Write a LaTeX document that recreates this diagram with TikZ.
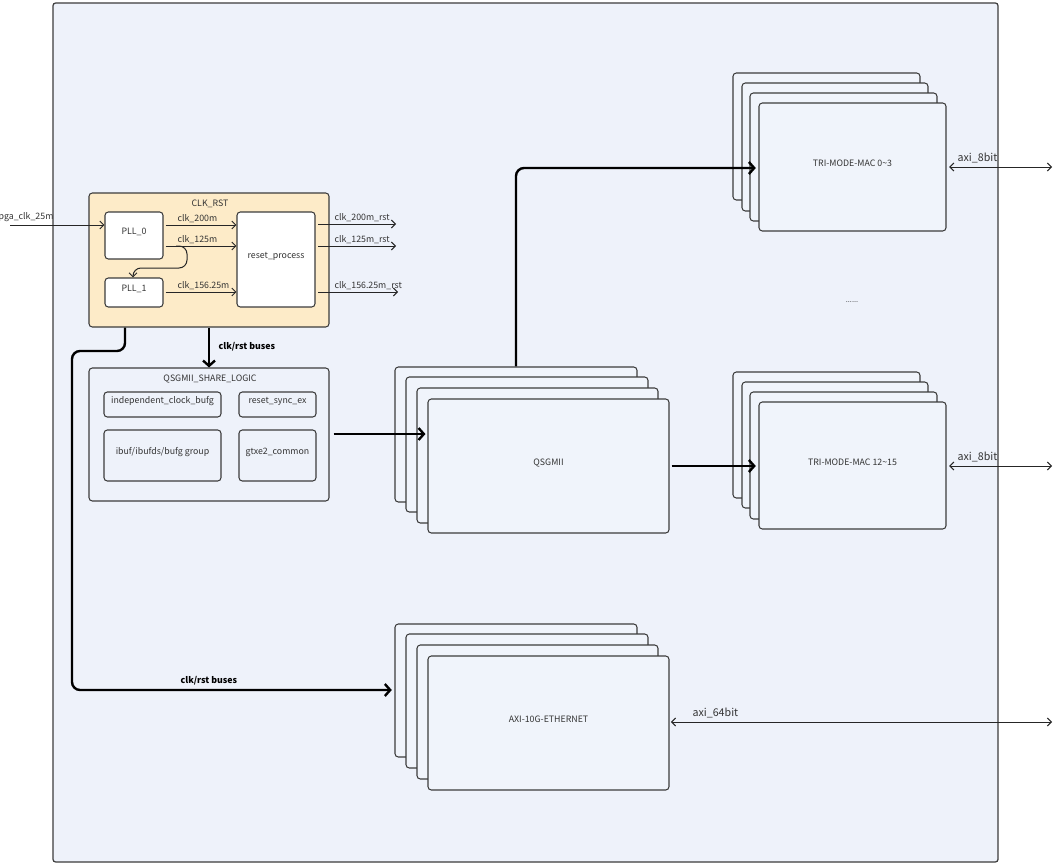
\documentclass[tikz,border=0pt]{standalone}
\usepackage{fontspec}
\setmainfont{Noto Sans CJK SC}
\usetikzlibrary{arrows.meta,fit}
\definecolor{bgblue}{HTML}{EEF2FA}
\definecolor{layerfill}{HTML}{F0F4FB}
\definecolor{clkfill}{HTML}{FDEBC8}
\definecolor{edge}{HTML}{3C3C3C}
\definecolor{txt}{HTML}{333333}
\tikzset{
  lbl/.style={font=\fontsize{6.6}{8}\selectfont, text=txt, inner sep=1pt},
  buslbl/.style={font=\fontsize{6.6}{8}\selectfont\bfseries, text=black, inner sep=1pt},
  axilbl/.style={font=\fontsize{8}{9}\selectfont, text=txt, inner sep=1pt},
  box/.style={draw=edge, line width=0.8pt, rounded corners=2.5pt, inner sep=0pt,
     font=\fontsize{6.6}{8}\selectfont, text=txt},
  whitebox/.style={box, fill=white},
  bluebox/.style={box, fill=bgblue},
  layer/.style={box, fill=layerfill},
  thinarrow/.style={draw=black!85, line width=0.75pt, -{Straight Barb[length=3pt,width=6pt]}},
  thickarrow/.style={draw=black, line width=1.8pt, rounded corners=6pt, -{Straight Barb[length=4pt,width=9pt]}},
  dblarrow/.style={draw=black!85, line width=0.75pt, {Straight Barb[length=3pt,width=6pt]}-{Straight Barb[length=3pt,width=6pt]}},
}
\begin{document}
\begin{tikzpicture}[x=0.75pt,y=-0.75pt]
\useasboundingbox (0,0) rectangle (1062,867);
\fill[white] (0,0) rectangle (1062,867);

% outer board
\node[box, fill=bgblue, rounded corners=2pt, line width=0.9pt, fit={(53,3)(998,862)}] (board) {};

% CLK_RST block
\node[box, fill=clkfill, fit={(89,193)(329,327)}] (clk) {};
\node[lbl] (clktitle) at (210,204) {CLK\_RST};
\node[whitebox, fit={(105,212)(163,259)}] (pll0) {PLL\_0};
\node[whitebox, fit={(105,278)(163,307)}] (pll1) {PLL\_1};
\node[whitebox, fit={(237,212)(315,307)}] (rp) {reset\_process};

% QSGMII_SHARE_LOGIC block
\node[bluebox, fit={(89,368)(329,501)}] (qsl) {};
\node[lbl] (qsltitle) at (210,379) {QSGMII\_SHARE\_LOGIC};
\node[bluebox, fit={(104,392)(221,417)}] (icb) {independent\_clock\_bufg};
\node[bluebox, fit={(239,392)(316,417)}] (rse) {reset\_sync\_ex};
\node[bluebox, fit={(104,430)(221,481)}] (ibuf) {ibuf/ibufds/bufg group};
\node[bluebox, fit={(239,430)(316,481)}] (gtx) {gtxe2\_common};

% QSGMII stack
\node[layer, fit={(395,367)(637,502)}] (q1) {};
\node[layer, fit={(406,377)(648,512)}] (q2) {};
\node[layer, fit={(417,388)(658,523)}] (q3) {};
\node[layer, fit={(428,399)(669,533)}] (q4) {QSGMII};

% TRI-MODE-MAC 0~3 stack
\node[layer, fit={(733,73)(920,200)}] (ma1) {};
\node[layer, fit={(742,83)(928,211)}] (ma2) {};
\node[layer, fit={(750,93)(937,221)}] (ma3) {};
\node[layer, fit={(759,103)(946,231)}] (ma4) {TRI-MODE-MAC 0\textasciitilde 3};

% TRI-MODE-MAC 12~15 stack
\node[layer, fit={(733,372)(920,498)}] (mb1) {};
\node[layer, fit={(742,382)(928,508)}] (mb2) {};
\node[layer, fit={(750,392)(937,519)}] (mb3) {};
\node[layer, fit={(759,402)(946,529)}] (mb4) {TRI-MODE-MAC 12\textasciitilde 15};

\node[lbl, font=\fontsize{5.5}{6}\selectfont] (dots) at (852,302) {......};

% AXI-10G-ETHERNET stack
\node[layer, fit={(395,624)(637,757)}] (x1) {};
\node[layer, fit={(406,634)(648,768)}] (x2) {};
\node[layer, fit={(417,645)(658,779)}] (x3) {};
\node[layer, fit={(428,656)(669,790)}] (x4) {AXI-10G-ETHERNET};

% free ends
\coordinate (fpgain) at (10,225);
\coordinate (axiA) at (1052,167);
\coordinate (axiB) at (1052,466);
\coordinate (axiC) at (1052,722);

% clock input
\draw[thinarrow] (fpgain) -- (pll0.west |- fpgain);
\node[lbl, anchor=south east] (fpgalbl) at (55,223) {fpga\_clk\_25m};

% PLL outputs
\draw[thinarrow] ([xshift=1.5pt]pll0.east |- 0,225) -- (rp.west |- 0,225);
\node[lbl, anchor=south west] (l200) at (176,224) {clk\_200m};
\draw[thinarrow] ([xshift=1.5pt]pll0.east |- 0,246) -- (rp.west |- 0,246);
\node[lbl, anchor=south west] (l125) at (176,245) {clk\_125m};
\draw[thinarrow, rounded corners=6pt] (176,246) -- (187,246) -- (187,268) -- (133,268) -- (pll1.north -| 133,0);
\draw[thinarrow] ([xshift=1.5pt]pll1.east |- 0,292) -- (rp.west |- 0,292);
\node[lbl, anchor=south west] (l156) at (176,291) {clk\_156.25m};

% reset outputs
\coordinate (o1) at (396,224);
\coordinate (o2) at (396,246);
\coordinate (o3) at (398,292);
\draw[thinarrow] ([xshift=2pt]rp.east |- o1) -- (o1);
\node[lbl, anchor=south west] (r200) at (333,223) {clk\_200m\_rst};
\draw[thinarrow] ([xshift=2pt]rp.east |- o2) -- (o2);
\node[lbl, anchor=south west] (r125) at (333,245) {clk\_125m\_rst};
\draw[thinarrow] ([xshift=2pt]rp.east |- o3) -- (o3);
\node[lbl, anchor=south west] (r156) at (333,291) {clk\_156.25m\_rst};

% clk/rst buses to share logic
\draw[thickarrow] (clk.south -| 209,0) -- (qsl.north -| 209,0);
\node[buslbl, anchor=west] (bus1) at (217,347) {clk/rst buses};

% clk/rst buses to AXI-10G
\draw[thickarrow] (clk.south -| 125,0) -- (125,351) -- (72,351) -- (72,690) -- ([xshift=-2pt]x1.west |- 0,690);
\node[buslbl, anchor=west] (bus2) at (179,681) {clk/rst buses};

% share logic to QSGMII
\draw[thickarrow] ([xshift=3pt]qsl.east |- 0,434) -- ([xshift=-1.5pt]q4.west |- 0,434);

% QSGMII to MACs
\draw[thickarrow] (q1.north -| 516,0) -- (516,168) -- ([xshift=-2pt]ma4.west |- 0,168);
\draw[thickarrow] ([xshift=1.5pt]q4.east |- 0,466) -- ([xshift=-2pt]mb4.west |- 0,466);

% AXI interfaces
\draw[dblarrow] ([xshift=2pt]ma4.east |- axiA) -- (axiA);
\node[axilbl, anchor=south west] (axi1) at (956,165) {axi\_8bit};
\draw[dblarrow] ([xshift=2pt]mb4.east |- axiB) -- (axiB);
\node[axilbl, anchor=south west] (axi2) at (956,464) {axi\_8bit};
\draw[dblarrow] ([xshift=1pt]x4.east |- axiC) -- (axiC);
\node[axilbl, anchor=south west] (axi3) at (691,720) {axi\_64bit};
\end{tikzpicture}
\end{document}
